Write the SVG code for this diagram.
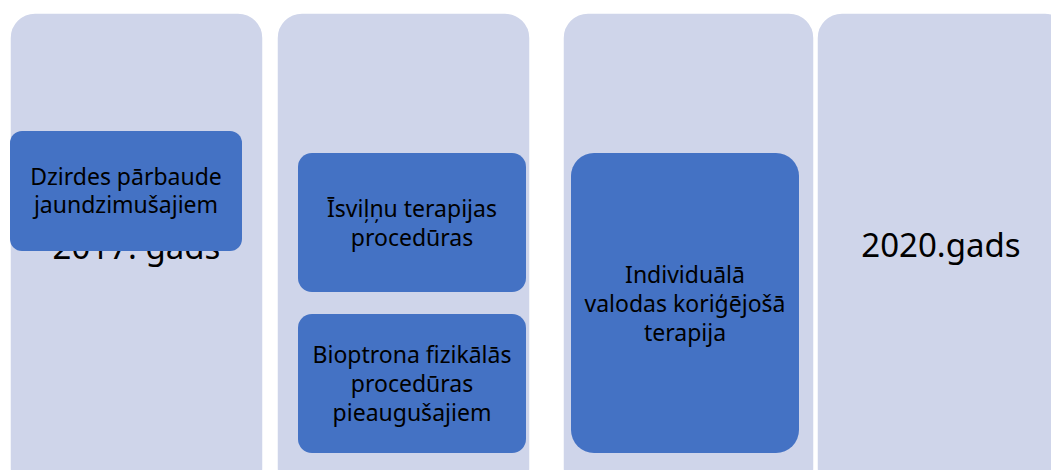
<svg xmlns="http://www.w3.org/2000/svg" width="1051" height="470" viewBox="0 0 1051 470">
<style>
.col{fill:#CFD5EA;stroke:#FFFFFF;stroke-width:1.5}
.box{fill:#4472C4}
.t{font-family:"Noto Sans","Open Sans",sans-serif;font-size:23px;fill:#000000;text-anchor:middle}
.yr{font-family:"Noto Sans","Open Sans",sans-serif;font-size:33px;fill:#000000;text-anchor:middle}
</style>
<rect width="1051" height="470" fill="#FFFFFF"/>
<g id="col2017">
<rect class="col" x="10" y="13" width="253" height="480" rx="25"/>
<text class="yr" x="136.5" y="259">2017. gads</text>
</g>
<g id="col2018">
<rect class="col" x="277" y="13" width="253" height="480" rx="25"/>
</g>
<g id="col2019">
<rect class="col" x="563" y="13" width="251" height="480" rx="25"/>
</g>
<g id="col2020">
<rect class="col" x="817" y="13" width="253" height="480" rx="25"/>
<text class="yr" x="941" y="257">2020.gads</text>
</g>
<g id="connectors"></g>
<g id="box1">
<rect class="box" x="10" y="131" width="232" height="120" rx="12"/>
<text class="t" x="126" y="185">Dzirdes pārbaude</text>
<text class="t" x="126" y="213">jaundzimušajiem</text>
</g>
<g id="box2a">
<rect class="box" x="298" y="153" width="228" height="139" rx="14"/>
<text class="t" x="412" y="217">Īsviļņu terapijas</text>
<text class="t" x="412" y="246">procedūras</text>
</g>
<g id="box2b">
<rect class="box" x="298" y="314" width="228" height="139" rx="14"/>
<text class="t" x="412" y="363">Bioptrona fizikālās</text>
<text class="t" x="412" y="392">procedūras</text>
<text class="t" x="412" y="421">pieaugušajiem</text>
</g>
<g id="box3">
<rect class="box" x="571" y="153" width="228" height="300" rx="23"/>
<text class="t" x="685" y="283">Individuālā</text>
<text class="t" x="685" y="312">valodas koriģējošā</text>
<text class="t" x="685" y="341">terapija</text>
</g>
</svg>
